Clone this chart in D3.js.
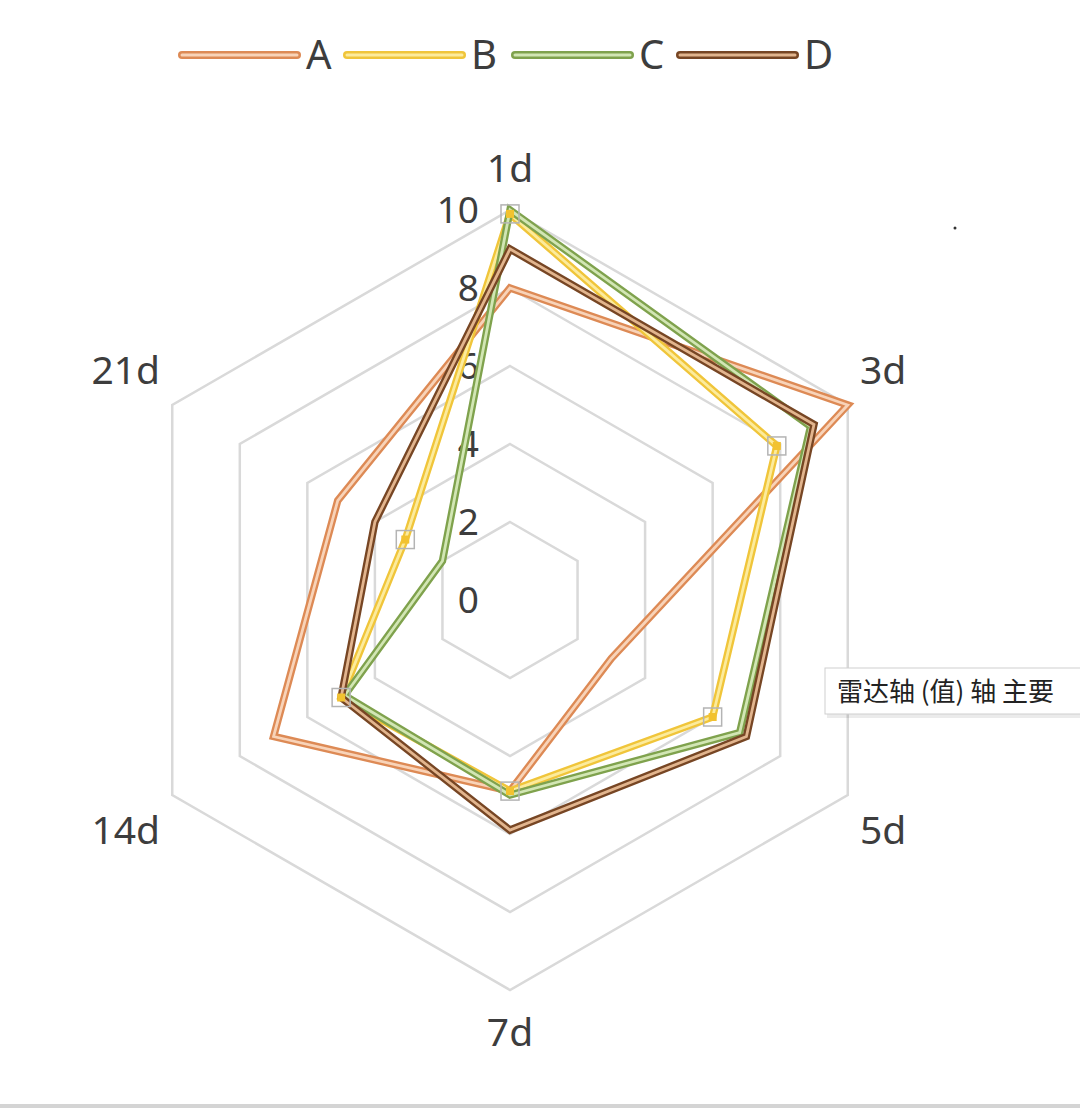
<!DOCTYPE html>
<html>
<head>
<meta charset="utf-8">
<script src="https://cdn.jsdelivr.net/npm/d3@7"></script>
<style>
  body { margin: 0; background: #fff; }
  svg { display: block; font-family: "Noto Sans", "Open Sans", sans-serif; }
  .tick-label, .axis-label, .legend-label { fill: #3d3d3d; }
</style>
</head>
<body>
<svg id="chart"></svg>
<script>
// Chart data
const axes = ['1d', '3d', '5d', '7d', '14d', '21d'];
const seriesNames = ['A', 'B', 'C', 'D'];
const valuesA = [8, 10, 3, 4.9, 7, 5.1];
const valuesB = [9.9, 7.9, 6, 4.9, 5, 3.1];
const valuesC = [10, 8.9, 6.8, 5, 4.9, 2];
const valuesD = [9, 9, 7, 5.9, 5, 4];
const ringTicks = [2, 4, 6, 8, 10];
const tickLabels = [0, 2, 4, 6, 8, 10];

const width = 1080, height = 1108;
const cx = 510, cy = 600, radius = 390;

const colors = {
  A: {outer: '#DD8A55', inner: '#F8D3B8'},
  B: {outer: '#F0C53A', inner: '#FCEB9C'},
  C: {outer: '#7FA24D', inner: '#D2E6B4'},
  D: {outer: '#774624', inner: '#E2B58E'}
};

const data = [
  {name: 'A', values: valuesA},
  {name: 'B', values: valuesB},
  {name: 'C', values: valuesC},
  {name: 'D', values: valuesD}
];

const svg = d3.select('#chart')
    .attr('width', width)
    .attr('height', height);

const rScale = d3.scaleLinear().domain([0, 10]).range([0, radius]);
const angle = d3.scalePoint().domain(axes).range([0, 2 * Math.PI * 5 / 6]);

const chart = svg.append('g')
    .attr('transform', `translate(${cx},${cy})`);

// point on radar for axis + value
const pt = (axis, v) => {
  const a = angle(axis);
  return [Math.sin(a) * rScale(v), -Math.cos(a) * rScale(v)];
};

// Grid rings (hexagons)
const ringLine = d3.line().curve(d3.curveLinearClosed);
chart.selectAll('.ring')
    .data(ringTicks)
  .join('path')
    .attr('class', 'ring')
    .attr('d', v => ringLine(axes.map(ax => pt(ax, v))))
    .attr('fill', 'none')
    .attr('stroke', '#d9d9d9')
    .attr('stroke-width', 2.5);

// Value tick labels along the vertical axis
chart.selectAll('.tick-label')
    .data(tickLabels)
  .join('text')
    .attr('class', 'tick-label')
    .attr('x', -31)
    .attr('y', v => -rScale(v))
    .attr('dy', '0.36em')
    .attr('text-anchor', 'end')
    .style('font-size', '37px')
    .text(d => d);

// Axis category labels: anchored away from the chart on the sides
const sideGap = 350;
chart.selectAll('.axis-label')
    .data(axes)
  .join('text')
    .attr('class', 'axis-label')
    .attr('x', d => {
      const s = Math.sin(angle(d));
      return Math.abs(s) < 0.01 ? 0 : Math.sign(s) * sideGap;
    })
    .attr('y', d => {
      const a = angle(d);
      return -Math.cos(a) * 432 - Math.sign(Math.cos(a)) * 14 * Math.abs(Math.sin(a)) / Math.sin(Math.PI / 3);
    })
    .attr('dy', '0.36em')
    .attr('text-anchor', d => {
      const s = Math.sin(angle(d));
      return Math.abs(s) < 0.01 ? 'middle' : (s > 0 ? 'start' : 'end');
    })
    .style('font-size', '39px')
    .text(d => d);

// Series lines, drawn as a compound (double) line
const seriesG = chart.selectAll('.series')
    .data(data)
  .join('g')
    .attr('class', 'series');

seriesG.append('path')
    .attr('d', d => ringLine(axes.map((ax, i) => pt(ax, d.values[i]))))
    .attr('fill', 'none')
    .attr('stroke', d => colors[d.name].outer)
    .attr('stroke-width', 7.5)
    .attr('stroke-linejoin', 'miter');

seriesG.append('path')
    .attr('d', d => ringLine(axes.map((ax, i) => pt(ax, d.values[i]))))
    .attr('fill', 'none')
    .attr('stroke', d => colors[d.name].inner)
    .attr('stroke-width', 2.8)
    .attr('stroke-linejoin', 'miter');

// Selected series B: markers and selection handles
const selPts = axes.map((ax, i) => pt(ax, valuesB[i]));
chart.selectAll('.sel-marker')
    .data(selPts)
  .join('rect')
    .attr('class', 'sel-marker')
    .attr('x', d => d[0] - 4)
    .attr('y', d => d[1] - 4)
    .attr('width', 8)
    .attr('height', 8)
    .attr('fill', '#F2C230');

chart.selectAll('.sel-box')
    .data(selPts)
  .join('rect')
    .attr('class', 'sel-box')
    .attr('x', d => d[0] - 9)
    .attr('y', d => d[1] - 9)
    .attr('width', 18)
    .attr('height', 18)
    .attr('fill', 'none')
    .attr('stroke', '#b4b4b4')
    .attr('stroke-width', 1.5);

// Legend
const legendX = [182, 347, 515, 680];
const legend = svg.append('g')
    .attr('class', 'legend')
    .attr('transform', 'translate(0,55)');

const legendItems = legend.selectAll('.legend-item')
    .data(seriesNames)
  .join('g')
    .attr('class', 'legend-item')
    .attr('transform', (d, i) => `translate(${legendX[i]},0)`);

legendItems.append('line')
    .attr('x1', 0).attr('x2', 115)
    .attr('stroke', d => colors[d].outer)
    .attr('stroke-width', 8)
    .attr('stroke-linecap', 'round');

legendItems.append('line')
    .attr('x1', 0).attr('x2', 115)
    .attr('stroke', d => colors[d].inner)
    .attr('stroke-width', 3)
    .attr('stroke-linecap', 'round');

legendItems.append('text')
    .attr('class', 'legend-label')
    .attr('x', 124)
    .attr('dy', '0.36em')
    .style('font-size', '40px')
    .text(d => d);

// Tooltip box on the right edge
const tip = svg.append('g').attr('transform', 'translate(825,668)');
tip.append('rect')
    .attr('x', 2).attr('y', 3)
    .attr('width', 270).attr('height', 47)
    .attr('fill', '#000').attr('opacity', 0.08);
tip.append('rect')
    .attr('width', 270).attr('height', 46)
    .attr('fill', '#fff')
    .attr('stroke', '#cfcfcf')
    .attr('stroke-width', 1);
tip.append('text')
    .attr('x', 12).attr('y', 33)
    .style('font-family', '"Noto Sans CJK SC", sans-serif')
    .style('font-size', '26px')
    .attr('fill', '#222')
    .text('雷达轴 (值) 轴 主要');

// small stray dot and bottom border
svg.append('circle').attr('cx', 955).attr('cy', 228).attr('r', 1.5).attr('fill', '#333');
svg.append('rect')
    .attr('x', 0).attr('y', 1104)
    .attr('width', width).attr('height', 4)
    .attr('fill', '#d4d4d4');
</script>
</body>
</html>
